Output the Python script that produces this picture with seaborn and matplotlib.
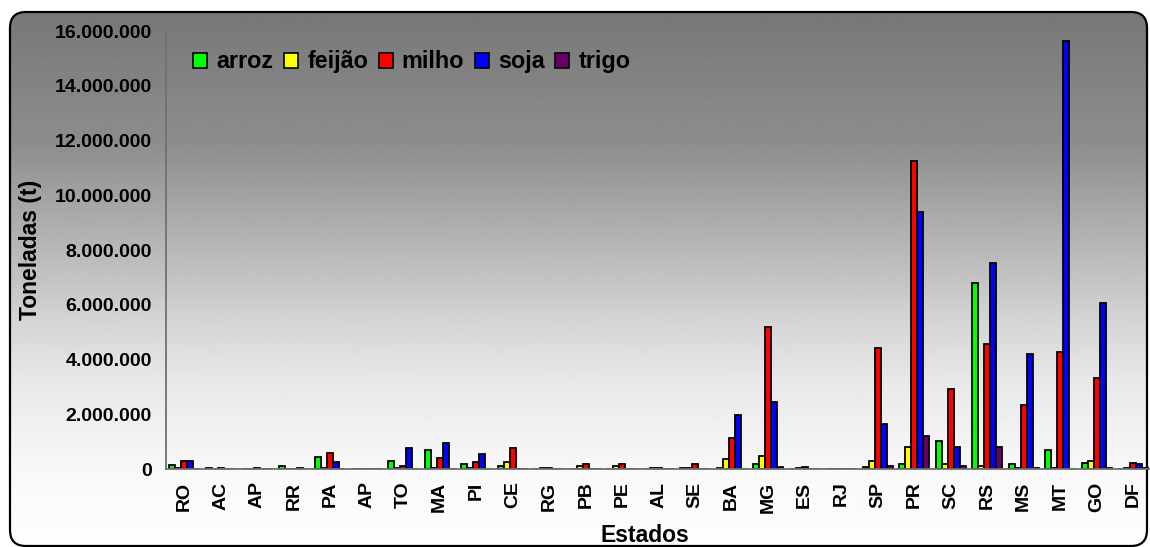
import numpy as np
import pandas as pd
import matplotlib
matplotlib.use('Agg')
import matplotlib.pyplot as plt
import seaborn as sns
from matplotlib.patches import FancyBboxPatch, Patch

# ---- data (tonnes) ----
estados = ['RO', 'AC', 'AP', 'RR', 'PA', 'AP', 'TO', 'MA', 'PI', 'CE', 'RG', 'PB', 'PE', 'AL',
           'SE', 'BA', 'MG', 'ES', 'RJ', 'SP', 'PR', 'SC', 'RS', 'MS', 'MT', 'GO', 'DF']
culturas = ['arroz', 'feijão', 'milho', 'soja', 'trigo']
arroz = [130000, 30000, 10000, 110000, 430000, 0, 300000, 690000, 180000, 120000, 10000, 10000, 10000, 10000,
         40000, 20000, 180000, 10000, 0, 80000, 180000, 1030000, 6800000, 180000, 690000, 230000, 10000]
feijao = [50000, 10000, 0, 10000, 40000, 0, 20000, 40000, 40000, 240000, 30000, 100000, 120000, 40000,
          30000, 350000, 490000, 20000, 0, 300000, 820000, 170000, 100000, 20000, 30000, 290000, 40000]
milho = [300000, 50000, 30000, 10000, 600000, 0, 100000, 410000, 240000, 750000, 40000, 170000, 180000, 50000,
         180000, 1120000, 5170000, 60000, 10000, 4430000, 11250000, 2910000, 4550000, 2340000, 4260000, 3310000, 230000]
soja = [300000, 0, 0, 30000, 240000, 0, 750000, 940000, 540000, 0, 0, 0, 0, 0,
        0, 1970000, 2430000, 0, 0, 1640000, 9390000, 810000, 7540000, 4200000, 15630000, 6050000, 180000]
trigo = [0, 0, 0, 0, 0, 0, 0, 0, 0, 0, 0, 0, 0, 0,
         0, 0, 80000, 0, 0, 120000, 1220000, 120000, 810000, 50000, 10000, 50000, 20000]
cores = ['#00FF00', '#FFFF00', '#FF0000', '#0000FF', '#660066']
yticks = [0, 2000000, 4000000, 6000000, 8000000, 10000000, 12000000, 14000000, 16000000]

series = [arroz, feijao, milho, soja, trigo]
rows = []
for c, vals in zip(culturas, series):
    for i, v in enumerate(vals):
        rows.append({'pos': i, 'Cultura': c, 't': v})
df = pd.DataFrame(rows)

sns.set_theme(style='white')
plt.rcParams['font.family'] = ['Liberation Sans', 'DejaVu Sans']
plt.rcParams['font.weight'] = 'bold'
plt.rcParams['text.color'] = 'black'
plt.rcParams['axes.labelcolor'] = 'black'
plt.rcParams['xtick.color'] = 'black'
plt.rcParams['ytick.color'] = 'black'

W, H = 1150, 547
fig = plt.figure(figsize=(W / 100, H / 100), dpi=100)
fig.patch.set_facecolor('white')

# background gradient with rounded frame
bg = fig.add_axes([0, 0, 1, 1])
bg.set_xlim(0, W)
bg.set_ylim(H, 0)
bg.axis('off')
ys = np.arange(H)
stops_y = [12, 120, 140, 320, 380, 470, 540]
stops_v = [119, 138, 140, 212, 232, 248, 253]
v = np.interp(ys, stops_y, stops_v) / 255.0
img = np.repeat(v[:, None], 2, axis=1)
im = bg.imshow(img, cmap='gray', vmin=0, vmax=1, extent=[0, W, H, 0], aspect='auto',
               interpolation='bilinear', zorder=0)
frame = FancyBboxPatch((10, 12), 1137, 534, boxstyle='round,pad=0,rounding_size=16',
                       facecolor='none', edgecolor='black', linewidth=1.6, zorder=2)
bg.add_patch(frame)
im.set_clip_path(frame)

# main axes
ax = fig.add_axes([166 / W, (H - 469) / H, (1151.5 - 166) / W, (469 - 31) / H])
ax.patch.set_alpha(0)
sns.barplot(data=df, x='pos', y='t', hue='Cultura', hue_order=culturas, palette=cores,
            width=0.82, edgecolor='black', linewidth=1.3, saturation=1, errorbar=None,
            legend=False, ax=ax)
ax.set_xlim(-0.5, len(estados) - 0.5)
ax.set_ylim(0, 16000000)
ax.set_yticks(yticks)
ax.set_yticklabels([f'{t:,.0f}'.replace(',', '.') for t in yticks], fontsize=14, fontweight='bold',
                   color='black')
ax.set_xticks(range(len(estados)))
ax.set_xticklabels(estados, rotation=90, fontsize=14, fontweight='bold', color='black')
ax.set_xticks(np.arange(-0.5, len(estados), 1), minor=True)
ax.tick_params(axis='x', which='major', length=0, pad=9, labelcolor='black')
ax.tick_params(axis='x', which='minor', length=7, width=1.2, color='#606060', direction='out')
ax.tick_params(axis='y', which='major', length=6, width=1.2, color='#606060', direction='out',
               pad=4, labelcolor='black')
for s in ['top', 'right']:
    ax.spines[s].set_visible(False)
for s in ['left', 'bottom']:
    ax.spines[s].set_color('#707070')
    ax.spines[s].set_linewidth(1.3)
ax.set_xlabel('')
ax.set_ylabel('')

fig.text(30 / W, 1 - 250 / H, 'Toneladas (t)', rotation=90, ha='center', va='center',
         fontsize=16.5, fontweight='bold', color='black')
fig.text(645 / W, 1 - 535 / H, 'Estados', ha='center', va='center', fontsize=16.5,
         fontweight='bold', color='black')

handles = [Patch(facecolor=c, edgecolor='black', linewidth=1.2) for c in cores]
leg = ax.legend(handles, culturas, loc='center left', bbox_to_anchor=(193 / W, 1 - 62 / H),
                bbox_transform=fig.transFigure, ncol=5, frameon=False,
                handlelength=0.6, handleheight=0.6, handletextpad=0.4, columnspacing=0.45,
                borderpad=0, borderaxespad=0, prop={'weight': 'bold', 'size': 16.8})
for t in leg.get_texts():
    t.set_color('black')

fig.savefig('out.png', dpi=100)
